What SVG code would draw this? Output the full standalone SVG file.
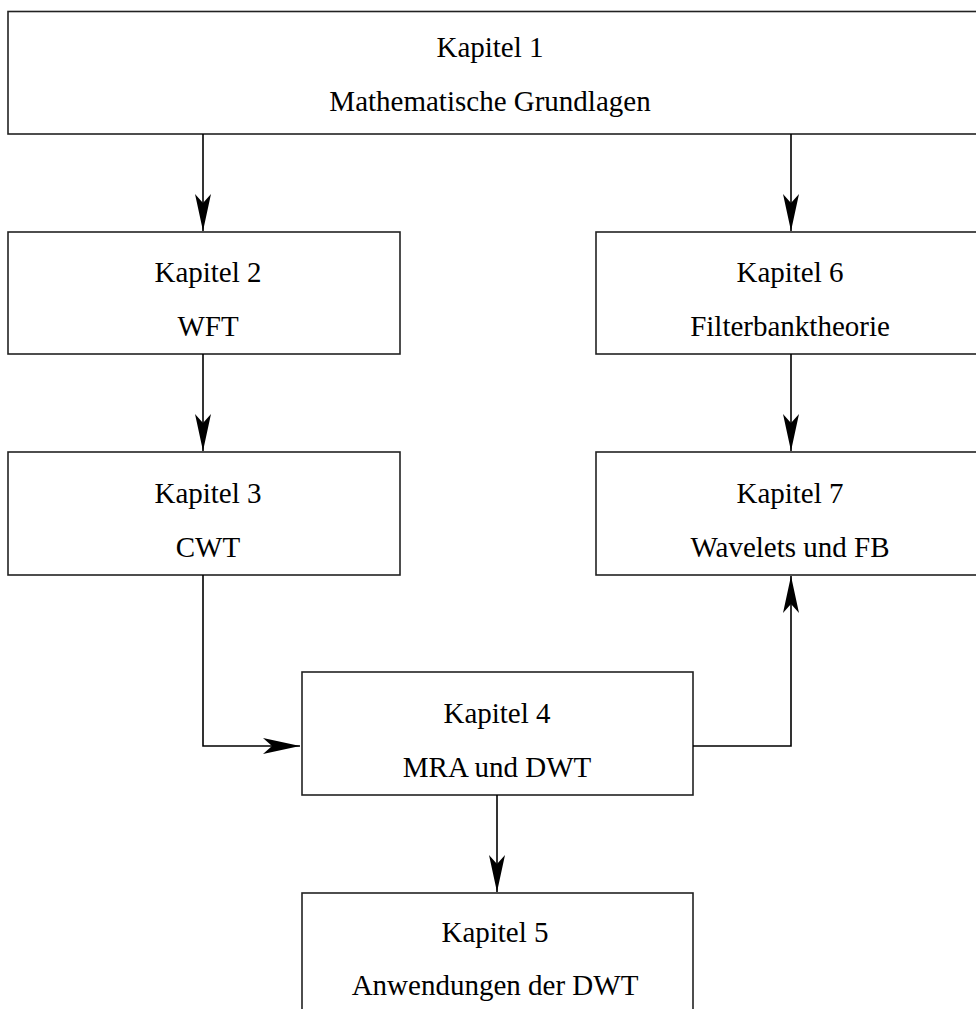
<svg xmlns="http://www.w3.org/2000/svg" width="976" height="1009" viewBox="0 0 976 1009">
<style>
.box{fill:#fff;stroke:#222;stroke-width:1.6}
.t{font-family:"Liberation Serif","Times New Roman",serif;font-size:29px;fill:#000;text-anchor:middle}
.c{fill:none;stroke:#000;stroke-width:1.6}
</style>
<defs>
<marker id="ah" markerUnits="userSpaceOnUse" markerWidth="40" markerHeight="20" viewBox="-38 -10 40 20" refX="0" refY="0" orient="auto">
<path d="M0,0 L-37,-8 L-28,0 L-37,8 Z" fill="#000"/>
</marker>
</defs>
<rect width="976" height="1009" fill="#fff"/>
<g id="k1"><rect class="box" x="8" y="11.5" width="975" height="122.5"/><text class="t" x="490" y="57">Kapitel 1</text><text class="t" x="490" y="111">Mathematische Grundlagen</text></g>
<g id="k2"><rect class="box" x="8" y="232" width="392" height="122"/><text class="t" x="208" y="282">Kapitel 2</text><text class="t" x="208" y="336">WFT</text></g>
<g id="k3"><rect class="box" x="8" y="452" width="392" height="123"/><text class="t" x="208" y="503">Kapitel 3</text><text class="t" x="208" y="557">CWT</text></g>
<g id="k6"><rect class="box" x="596" y="232" width="387" height="122"/><text class="t" x="790" y="282">Kapitel 6</text><text class="t" x="790" y="336">Filterbanktheorie</text></g>
<g id="k7"><rect class="box" x="596" y="452" width="387" height="123"/><text class="t" x="790" y="503">Kapitel 7</text><text class="t" x="790" y="557">Wavelets und FB</text></g>
<g id="k4"><rect class="box" x="302" y="672" width="391" height="123"/><text class="t" x="497" y="723">Kapitel 4</text><text class="t" x="497" y="777">MRA und DWT</text></g>
<g id="k5"><rect class="box" x="302" y="893" width="391" height="130"/><text class="t" x="495" y="942">Kapitel 5</text><text class="t" x="495" y="995">Anwendungen der DWT</text></g>
<g id="connectors">
<path class="c" d="M203,134 V231" marker-end="url(#ah)"/>
<path class="c" d="M791,134 V231" marker-end="url(#ah)"/>
<path class="c" d="M203,354 V451" marker-end="url(#ah)"/>
<path class="c" d="M791,354 V451" marker-end="url(#ah)"/>
<path class="c" d="M203,575 V746 H300" marker-end="url(#ah)"/>
<path class="c" d="M693,746 H791 V576" marker-end="url(#ah)"/>
<path class="c" d="M497,795 V892" marker-end="url(#ah)"/>
</g>
</svg>
